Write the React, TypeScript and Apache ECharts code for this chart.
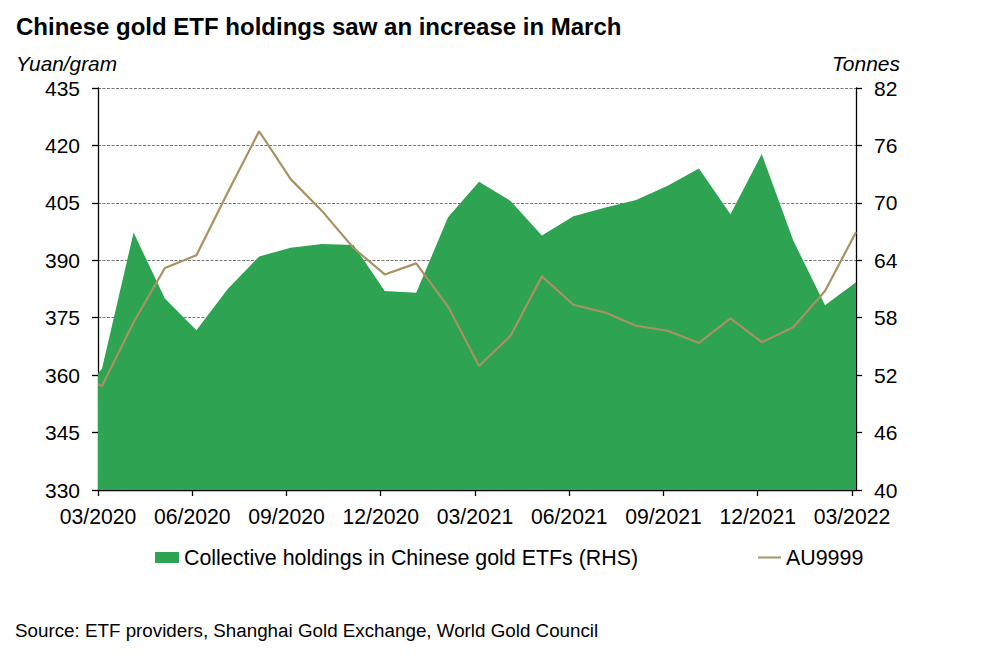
import React, { useEffect, useRef } from "react";
import * as echarts from "echarts";

const dates = [
  "2020-03-01", "2020-03-05", "2020-04-05", "2020-05-05", "2020-06-05", "2020-07-05",
  "2020-08-05", "2020-09-05", "2020-10-05", "2020-11-05", "2020-12-05", "2021-01-05",
  "2021-02-05", "2021-03-05", "2021-04-05", "2021-05-05", "2021-06-05", "2021-07-05",
  "2021-08-05", "2021-09-05", "2021-10-05", "2021-11-05", "2021-12-05", "2022-01-05",
  "2022-02-05", "2022-03-05",
];

const au9999 = [
  357.6, 357.2, 373.8, 388.0, 391.3, 407.7, 423.7, 411.2, 402.9, 393.2, 386.3, 389.2,
  377.9, 362.4, 370.3, 385.8, 378.4, 376.4, 372.9, 371.6, 368.4, 374.8, 368.6, 372.5,
  382.0, 397.3,
];

const holdings = [
  52.2, 52.7, 66.9, 60.0, 56.7, 61.0, 64.4, 65.3, 65.7, 65.6, 60.8, 60.6,
  68.5, 72.2, 70.2, 66.6, 68.6, 69.5, 70.3, 71.8, 73.6, 68.8, 75.1, 66.1,
  59.3, 61.7,
];

const xTickLabels = ["03/2020", "06/2020", "09/2020", "12/2020", "03/2021", "06/2021", "09/2021", "12/2021", "03/2022"];
const rightTicks = [40, 46, 52, 58, 64, 70, 76, 82];

const TITLE = "Chinese gold ETF holdings saw an increase in March";
const LEFT_UNIT = "Yuan/gram";
const RIGHT_UNIT = "Tonnes";
const SERIES_AREA = "Collective holdings in Chinese gold ETFs (RHS)";
const SERIES_LINE = "AU9999";
const SOURCE = "Source: ETF providers, Shanghai Gold Exchange, World Gold Council";

function monthIndex(d: string): number {
  const [y, m, day] = d.split("-").map(Number);
  const dim = new Date(y, m, 0).getDate();
  return (y - 2020) * 12 + (m - 3) + (day - 1) / dim;
}

const FONT = "Liberation Sans, Arial, sans-serif";

export default function App() {
  const ref = useRef<HTMLDivElement>(null);
  useEffect(() => {
    if (!ref.current) return;
    const chart = echarts.init(ref.current, undefined, { renderer: "svg" });
    const xs = dates.map(monthIndex);
    const xMax = xs[xs.length - 1];
    const xTickVals = xTickLabels.map((_, i) => i * 3);
    const labelMap: Record<number, string> = {};
    xTickVals.forEach((v, i) => (labelMap[v] = xTickLabels[i]));

    chart.setOption({
      animation: false,
      backgroundColor: "#ffffff",
      textStyle: { fontFamily: FONT },
      title: {
        text: TITLE,
        left: 11,
        top: 9,
        textStyle: { fontFamily: FONT, fontWeight: "bold", fontSize: 24, color: "#000" },
      },
      graphic: [
        {
          type: "text",
          left: 16,
          top: 53,
          style: { text: LEFT_UNIT, font: `italic 20.8px ${FONT}`, fill: "#000" },
        },
        {
          type: "text",
          right: 82,
          top: 53,
          style: { text: RIGHT_UNIT, font: `italic 21px ${FONT}`, fill: "#000" },
        },
        {
          type: "text",
          left: 15,
          top: 621,
          style: { text: SOURCE, font: `18.8px ${FONT}`, fill: "#000" },
        },
      ],
      legend: [
        {
          data: [{ name: SERIES_AREA, icon: "rect" }],
          left: 155,
          top: 547,
          padding: 0,
          itemWidth: 24,
          itemHeight: 11,
          textStyle: { fontFamily: FONT, fontSize: 21.4, color: "#000" },
        },
        {
          data: [{ name: SERIES_LINE, icon: "rect" }],
          left: 758,
          top: 547,
          padding: 0,
          itemWidth: 23,
          itemHeight: 2,
          textStyle: { fontFamily: FONT, fontSize: 21.4, color: "#000" },
        },
      ],
      grid: { left: 98, right: 126, top: 88, bottom: 181, containLabel: false },
      xAxis: {
        type: "value",
        min: 0,
        max: xMax,
        axisLine: { show: true, lineStyle: { color: "#000", width: 1.3 } },
        axisTick: {
          show: true,
          inside: false,
          length: 6,
          customValues: xTickVals,
          lineStyle: { color: "#000", width: 1.3 },
        },
        axisLabel: {
          customValues: xTickVals,
          formatter: (v: number) => labelMap[Math.round(v)] ?? "",
          fontFamily: FONT,
          fontSize: 21.2,
          color: "#000",
          margin: 16,
        },
        splitLine: { show: false },
      },
      yAxis: [
        {
          type: "value",
          position: "left",
          min: 330,
          max: 435,
          interval: 15,
          axisLine: { show: true, lineStyle: { color: "#000", width: 1.3 } },
          axisTick: { show: true, length: 6, lineStyle: { color: "#000", width: 1.3 } },
          axisLabel: { fontFamily: FONT, fontSize: 21, color: "#000", margin: 18 },
          splitLine: { show: true, lineStyle: { color: "#555", type: [3, 1.5], width: 0.8 } },
        },
        {
          type: "value",
          position: "right",
          min: 40,
          max: 82,
          axisLine: { show: true, lineStyle: { color: "#000", width: 1.3 } },
          axisTick: { show: true, length: 6, customValues: rightTicks, lineStyle: { color: "#000", width: 1.3 } },
          axisLabel: { customValues: rightTicks, fontFamily: FONT, fontSize: 21, color: "#000", margin: 18 },
          splitLine: { show: false },
        },
      ],
      series: [
        {
          name: SERIES_AREA,
          type: "line",
          yAxisIndex: 1,
          data: xs.map((x, i) => [x, holdings[i]]),
          showSymbol: false,
          lineStyle: { width: 0 },
          itemStyle: { color: "#2EA352" },
          areaStyle: { color: "#2EA352", opacity: 1, origin: "start" },
          z: 1,
        },
        {
          name: SERIES_LINE,
          type: "line",
          yAxisIndex: 0,
          data: xs.map((x, i) => [x, au9999[i]]),
          showSymbol: false,
          lineStyle: { width: 2.2, color: "#A89263" },
          itemStyle: { color: "#A89263" },
          z: 2,
        },
      ],
    });
    return () => chart.dispose();
  }, []);
  return (
    <div
      ref={ref}
      style={{ position: "fixed", left: 0, top: 0, width: 982, height: 671, background: "#fff" }}
    />
  );
}
